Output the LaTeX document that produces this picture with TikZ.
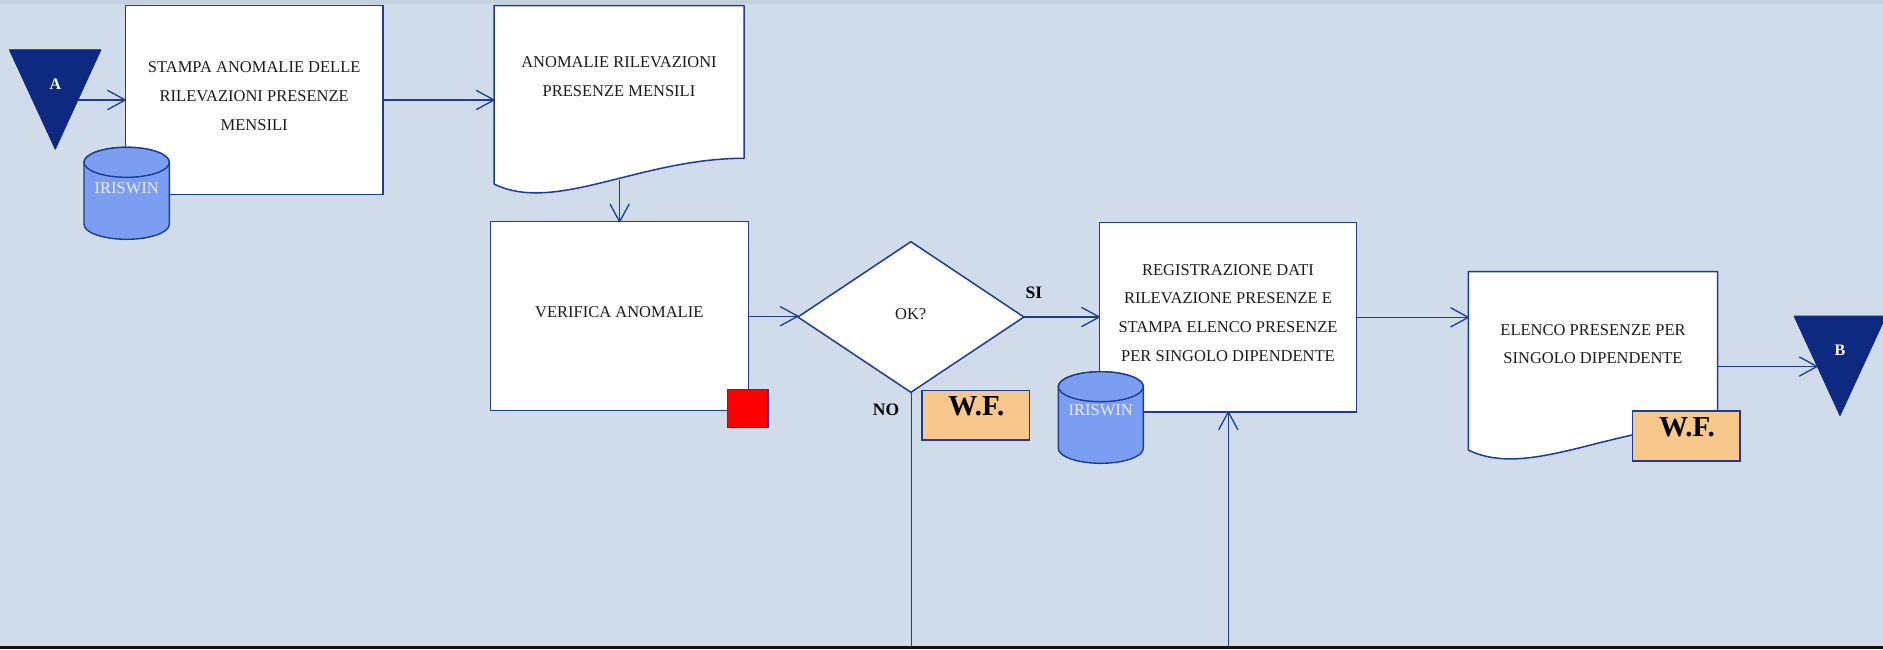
\documentclass[tikz,border=0pt]{standalone}
\usepackage{fontspec}
\setmainfont{Liberation Serif}
\usetikzlibrary{shapes.geometric,arrows.meta}

\definecolor{bgblue}{RGB}{208,220,233}
\definecolor{topband}{RGB}{197,208,222}
\definecolor{edgeblue}{RGB}{30,60,145}
\definecolor{navy}{RGB}{14,42,128}
\definecolor{dbfill}{RGB}{123,157,242}
\definecolor{dbtext}{RGB}{232,238,250}
\definecolor{wffill}{RGB}{247,199,139}
\definecolor{inkgray}{RGB}{26,26,26}

% open "V" arrow head made of two straight strokes
\pgfdeclarearrow{
  name = OpenV,
  parameters = {\the\pgfarrowlength,\the\pgfarrowwidth},
  setup code = {
    \pgfarrowssettipend{0pt}
    \pgfarrowssetlineend{0pt}
    \pgfarrowssetvisualbackend{-\pgfarrowlength}
    \pgfarrowssetbackend{-\pgfarrowlength}
    \pgfarrowssavethe\pgfarrowlength
    \pgfarrowssavethe\pgfarrowwidth
  },
  drawing code = {
    \pgfsetdash{}{0pt}
    \pgfsetroundjoin
    \pgfsetroundcap
    \pgfpathmoveto{\pgfqpoint{-\pgfarrowlength}{0.5\pgfarrowwidth}}
    \pgfpathlineto{\pgfqpoint{0pt}{0pt}}
    \pgfpathlineto{\pgfqpoint{-\pgfarrowlength}{-0.5\pgfarrowwidth}}
    \pgfusepathqstroke
  },
  defaults = {length = 17.5pt, width = 19pt}
}

\tikzset{
  proc/.style={draw=edgeblue, line width=1.5pt, fill=white, inner sep=0pt, outer sep=0pt, rectangle},
  frame/.style={draw=none, inner sep=0pt, outer sep=0pt, rectangle},
  docshape/.style={draw=edgeblue, line width=1.5pt, fill=white, line join=round},
  decision/.style={diamond, draw=edgeblue, line width=1.5pt, fill=white, inner sep=0pt, outer sep=0pt},
  txt/.style={inner sep=0pt, outer sep=0pt, align=center, text=inkgray, font=\fontsize{16.5}{28.8}\selectfont},
  dbtxt/.style={inner sep=0pt, outer sep=0pt, text=dbtext, font=\fontsize{16.5}{20}\selectfont},
  wfbox/.style={draw=edgeblue, line width=1.3pt, fill=wffill, inner sep=0pt, outer sep=0pt, rectangle},
  wftxt/.style={inner sep=0pt, outer sep=0pt, text=black, font=\fontsize{29}{31}\selectfont\bfseries},
  answer/.style={inner sep=0pt, outer sep=0pt, text=black, font=\fontsize{17.5}{20}\selectfont\bfseries},
  conntxt/.style={inner sep=0pt, outer sep=0pt, text=white, font=\fontsize{16}{18}\selectfont\bfseries},
  connector/.style={fill=navy, draw=navy, line width=0.8pt, line join=round},
  dbshape/.style={fill=dbfill, draw=edgeblue, line width=1.4pt},
  flow/.style={draw=edgeblue, line width=1.3pt, -{OpenV}},
  plain/.style={draw=edgeblue, line width=1.3pt},
}

\begin{document}
\begin{tikzpicture}[x=1pt, y=-1pt]
  % canvas
  \useasboundingbox (0,0) rectangle (1883,649);
  \fill[bgblue] (0,0) rectangle (1883,649);
  \fill[topband] (0,0) rectangle (1883,3.5);
  \fill[black!93] (0,645.8) rectangle (1883,649);

  % off-page connectors
  \fill[connector] (9.3,49.7) -- (101,49.7) -- (55.3,149.3) -- cycle;
  \node[conntxt] (conA) at (55.3,84.3) {A};
  \coordinate (aOut) at (78.2,100);
  \fill[connector] (1794,316) -- (1886,316) -- (1840,415.7) -- cycle;
  \node[conntxt] (conB) at (1840,350.5) {B};
  \coordinate (bIn) at (1817,366.5);

  % document shapes (wavy bottom edge)
  \path[docshape] (494,5.7) -- (744,5.7) -- (744,158.3)
     .. controls (640,158.3) and (555,214) .. (494,184) -- cycle;
  \node[frame, minimum width=250pt, minimum height=152.6pt] (doc1) at (619,82) {};
  \node[txt] (doc1txt) at (619,77) {ANOMALIE RILEVAZIONI\\PRESENZE MENSILI};

  \path[docshape] (1468.3,271.7) -- (1717.7,271.7) -- (1717.7,424.3)
     .. controls (1614.3,424.3) and (1529.3,480) .. (1468.3,450) -- cycle;
  \node[frame, minimum width=249.4pt, minimum height=152.6pt] (doc2) at (1593,348) {};
  \node[txt] (doc2txt) at (1593,344.2) {ELENCO PRESENZE PER\\SINGOLO DIPENDENTE};

  % process boxes
  \node[proc, minimum width=257.7pt, minimum height=188.6pt] (box1) at (254.15,100) {};
  \node[txt] (box1txt) at (254.2,95.9) {STAMPA ANOMALIE DELLE\\RILEVAZIONI PRESENZE\\MENSILI};

  \node[proc, minimum width=257.9pt, minimum height=189pt] (box2) at (619.6,316.2) {};
  \node[txt] (box2txt) at (619.3,311.7) {VERIFICA ANOMALIE};

  \node[proc, minimum width=257.4pt, minimum height=189.3pt] (box3) at (1228,317.35) {};
  \node[txt] (box3txt) at (1228,312.9) {REGISTRAZIONE DATI\\RILEVAZIONE PRESENZE E\\STAMPA ELENCO PRESENZE\\PER SINGOLO DIPENDENTE};

  % decision
  \node[decision, minimum width=226pt, minimum height=150.6pt] (dia) at (910.9,317) {};
  \node[txt] (diatxt) at (910.7,314) {OK?};

  % red marker on the check box
  \node[rectangle, fill=red, draw=edgeblue, line width=1.2pt, inner sep=0pt, outer sep=0pt,
        minimum width=40.4pt, minimum height=38pt] (redmark) at (747.7,408.2) {};

  % databases
  \path[dbshape] (84,162.3) -- (84,224.3) arc[start angle=180, end angle=0, x radius=42.65, y radius=15]
     -- (169.3,162.3) arc[start angle=0, end angle=-180, x radius=42.65, y radius=15] -- cycle;
  \draw[dbshape] (126.65,162.3) ellipse[x radius=42.65, y radius=15];
  \node[dbtxt] (db1) at (126.7,187.7) {IRISWIN};

  \path[dbshape] (1058.3,386.7) -- (1058.3,448.3) arc[start angle=180, end angle=0, x radius=42.5, y radius=15]
     -- (1143.3,386.7) arc[start angle=0, end angle=-180, x radius=42.5, y radius=15] -- cycle;
  \draw[dbshape] (1100.8,386.7) ellipse[x radius=42.5, y radius=15];
  \node[dbtxt] (db2) at (1100.8,410) {IRISWIN};

  % work-flow tags
  \node[wfbox, minimum width=107.2pt, minimum height=49.3pt] (wf1) at (975.7,415.35) {};
  \node[wftxt] (wf1txt) at (976.4,406.5) {W.F.};
  \node[wfbox, minimum width=107.7pt, minimum height=50pt] (wf2) at (1686.15,436) {};
  \node[wftxt] (wf2txt) at (1687,427.5) {W.F.};

  % answers
  \node[answer] (ansNo) at (886,410) {NO};
  \node[answer] (ansSi) at (1034,292.3) {SI};

  % connectors
  \coordinate (d1out) at (619.6,180);
  \coordinate (noEnd) at (911.4,646);
  \coordinate (upStart) at (1228.3,646);
  \draw[flow] (aOut) -- (aOut -| box1.west);
  \draw[flow] (box1.east) -- (box1.east -| doc1.west);
  \draw[flow] (d1out) -- (d1out |- box2.north);
  \draw[flow] (box2.east) -- (box2.east -| dia.west);
  \draw[flow] (dia.east) -- (dia.east -| box3.west);
  \draw[plain] (dia.south -| noEnd) -- (noEnd);
  \draw[flow] (upStart) -- (upStart |- box3.south);
  \draw[flow] (box3.east) -- (box3.east -| doc2.west);
  \draw[flow] (doc2.east |- bIn) -- (bIn);
\end{tikzpicture}
\end{document}
